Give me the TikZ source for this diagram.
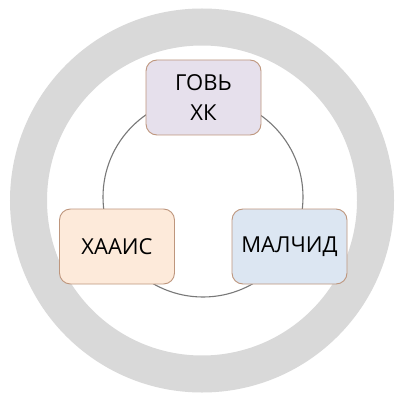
\documentclass[tikz,border=0pt]{standalone}
\usepackage{fontspec}
\setmainfont{Open Sans}
\definecolor{ringgray}{RGB}{217,217,217}
\definecolor{circgray}{RGB}{120,120,120}
\definecolor{boxline}{RGB}{190,150,125}
\definecolor{fillA}{RGB}{230,224,236}
\definecolor{fillB}{RGB}{253,234,218}
\definecolor{fillC}{RGB}{220,230,242}
\tikzset{
  cyclebox/.style={draw=boxline, line width=0.9pt, rounded corners=11pt,
    minimum width=115pt, minimum height=75pt, inner sep=0pt, align=center,
    font=\fontsize{22}{30}\selectfont, text=black},
}
\begin{document}
\begin{tikzpicture}[x=1pt,y=-1pt]
\useasboundingbox (0,0) rectangle (395,395);
\fill[white] (0,0) rectangle (395,395);
\draw[ringgray, line width=37pt] (202,200.5) circle[radius=173.5pt];
\draw[circgray, line width=1.1pt] (203,197) circle[radius=100pt];
\node[cyclebox, fill=fillA] (top) at (203.5,97.5) {ГОВЬ\\ХК};
\node[cyclebox, fill=fillB] (left) at (117,246.5) {ХААИС};
\node[cyclebox, fill=fillC] (right) at (289.5,246.5) {МАЛЧИД};
\end{tikzpicture}
\end{document}
